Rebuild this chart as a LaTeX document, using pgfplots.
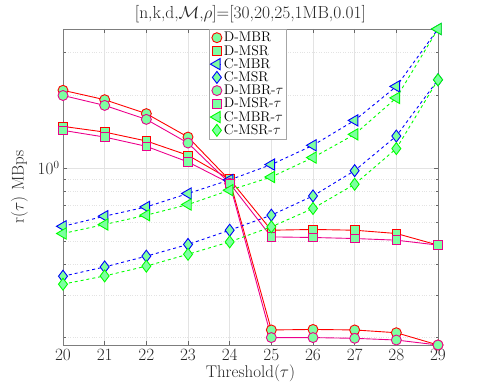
\documentclass[border=0pt]{standalone}
\usepackage{pgfplots}
\pgfplotsset{compat=1.18}
\usepackage{pgfplotstable}
\definecolor{mint}{rgb}{0.49,1,0.63}
\definecolor{axgray}{rgb}{0.15,0.15,0.15}
\pgfplotstableread{
x dmbr dmsr cmbr cmsr dmbrt dmsrt cmbrt cmsrt
20 2.090 1.484 0.575 0.358 1.990 1.429 0.537 0.332
21 1.912 1.406 0.633 0.391 1.811 1.341 0.585 0.359
22 1.675 1.292 0.691 0.433 1.586 1.228 0.639 0.394
23 1.341 1.128 0.785 0.484 1.267 1.059 0.707 0.441
24 0.890 0.899 0.893 0.554 0.865 0.865 0.810 0.496
25 0.215 0.554 1.033 0.639 0.200 0.520 0.918 0.572
26 0.216 0.558 1.240 0.767 0.200 0.517 1.104 0.681
27 0.215 0.554 1.571 0.975 0.1986 0.512 1.376 0.857
28 0.2094 0.537 2.169 1.354 0.1954 0.504 1.945 1.202
29 0.1864 0.481 3.740 2.310 0.1864 0.481 3.740 2.310
}\data
\begin{document}
\begin{tikzpicture}
\useasboundingbox (0,0) rectangle (485bp,388bp);
\begin{semilogyaxis}[
  at={(63bp,43bp)}, anchor=south west,
  scale only axis, width=375bp, height=316bp,
  xmin=20, xmax=29, ymin=0.1864, ymax=3.74,
  xtick={20,...,29},
  ytick={1},
  minor ytick={0.2,0.3,0.4,0.5,0.6,0.7,0.8,0.9,2,3},
  grid=both,
  major grid style={gray!22, line width=0.4pt},
  minor grid style={gray!22, dotted, line width=0.4pt},
  axis line style={axgray!60, line width=0.5pt},
  tick style={axgray!70, line width=0.5pt},
  tick align=inside,
  major tick length=4bp, minor tick length=2.5bp,
  clip=false,
  ticklabel style={font=\fontsize{16}{18}\selectfont, text=axgray},
  xticklabel style={yshift=-1bp},
  title={[n,k,d,$\mathcal{M}$,$\rho$]=[30,20,25,1MB,0.01]},
  title style={font=\fontsize{17.5}{20}\selectfont, text=axgray, yshift=-3bp},
  xlabel={Threshold($\tau$)},
  ylabel={r($\tau$) MBps},
  label style={font=\fontsize{17}{20}\selectfont, text=axgray},
  xlabel style={yshift=3bp},
  ylabel style={yshift=3bp},
  legend cell align=left,
  legend style={at={(0.493,1)}, anchor=north, font=\fontsize{14}{15}\selectfont,
    draw=gray!70, fill=white, inner sep=1pt, row sep=-2bp,
    /tikz/every even column/.append style={column sep=0pt}},
  legend image code/.code={\draw[mark repeat=2,mark phase=2] plot coordinates {(0cm,0cm) (0.15cm,0cm) (0.3cm,0cm)};},
  every axis plot/.append style={line width=0.9pt},
]
\addplot[red, mark=*, mark options={solid, fill=mint, draw=red, mark size=5bp}] table[y=dmbr]{\data};
\addlegendentry{D-MBR}
\addplot[red, mark=square*, mark options={solid, fill=mint, draw=red, mark size=4.3bp}] table[y=dmsr]{\data};
\addlegendentry{D-MSR}
\addplot[blue, dashed, mark=triangle*, mark options={solid, fill=mint, draw=blue, rotate=90, mark size=6.5bp}] table[y=cmbr]{\data};
\addlegendentry{C-MBR}
\addplot[blue, dashed, mark=diamond*, mark options={solid, fill=mint, draw=blue, mark size=6bp}] table[y=cmsr]{\data};
\addlegendentry{C-MSR}
\addplot[magenta, mark=*, mark options={solid, fill=mint, draw=magenta, mark size=5bp}] table[y=dmbrt]{\data};
\addlegendentry{D-MBR-$\tau$}
\addplot[magenta, mark=square*, mark options={solid, fill=mint, draw=magenta, mark size=4.3bp}] table[y=dmsrt]{\data};
\addlegendentry{D-MSR-$\tau$}
\addplot[green, dashed, mark=triangle*, mark options={solid, fill=mint, draw=green, rotate=90, mark size=6.5bp}] table[y=cmbrt]{\data};
\addlegendentry{C-MBR-$\tau$}
\addplot[green, dashed, mark=diamond*, mark options={solid, fill=mint, draw=green, mark size=6bp}] table[y=cmsrt]{\data};
\addlegendentry{C-MSR-$\tau$}
\end{semilogyaxis}
\end{tikzpicture}
\end{document}
